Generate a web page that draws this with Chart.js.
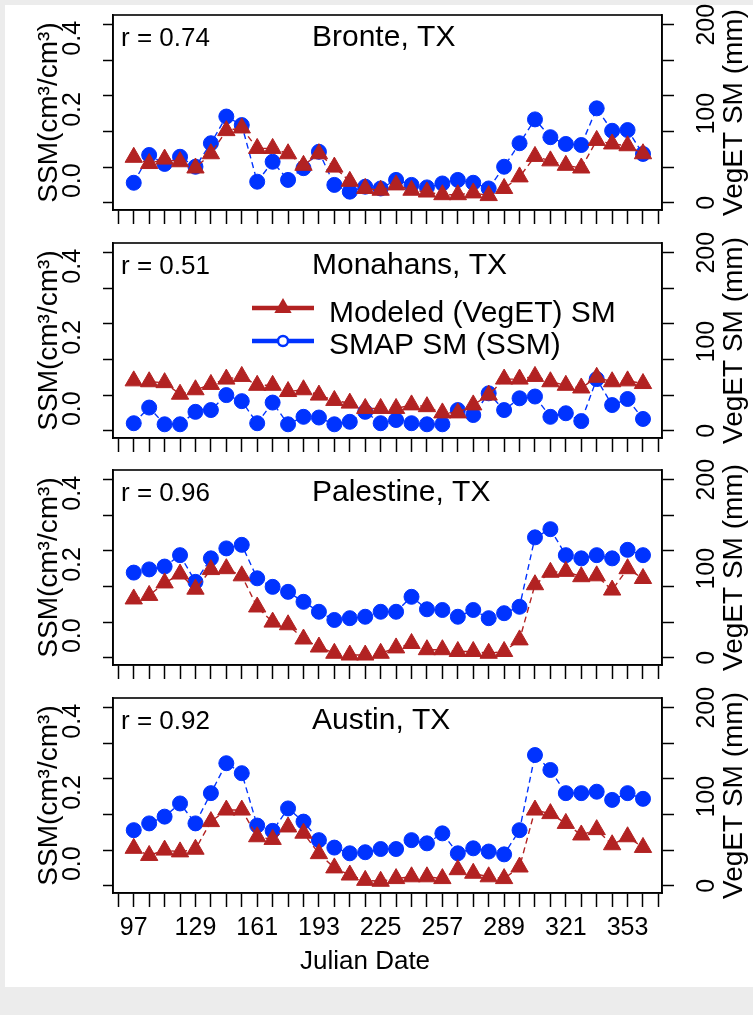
<!DOCTYPE html>
<html><head><meta charset="utf-8">
<script src="https://cdn.jsdelivr.net/npm/chart.js@4.4.1/dist/chart.umd.min.js"></script>
<style>
html,body{margin:0;padding:0;background:#ececec;width:753px;height:1015px;overflow:hidden;}
#fig{position:absolute;left:5px;top:5px;width:748px;height:982px;background:#fff;}
canvas{position:absolute;left:0;}
</style></head><body>
<div id="fig"></div>
<script>
// ---------------- data ----------------
const DAYS = [97,105,113,121,129,137,145,153,161,169,177,185,193,201,209,217,225,233,241,249,257,265,273,281,289,297,305,313,321,329,337,345,353,361];
const X_TICKS = [89,97,105,113,121,129,137,145,153,161,169,177,185,193,201,209,217,225,233,241,249,257,265,273,281,289,297,305,313,321,329,337,345,353,361,369];
const X_TICK_LABELS = ['97','129','161','193','225','257','289','321','353'];
const SSM_MARKS = [0,0.1,0.2,0.3,0.4,0.5];
const SSM_LABELS = ['0.0','0.2','0.4'];
const VEG_MARKS = [0,40,80,120,160,200];
const VEG_LABELS = ['0','100','200'];

const SITES = ['Bronte, TX','Monahans, TX','Palestine, TX','Austin, TX'];
const R_VALUES = ['0.74','0.51','0.96','0.92'];

const SSM_BRONTE = [0.056,0.134,0.109,0.129,0.101,0.167,0.242,0.218,0.059,0.115,0.064,0.097,0.143,0.050,0.031,0.045,0.040,0.064,0.050,0.043,0.054,0.064,0.056,0.040,0.101,0.167,0.234,0.184,0.165,0.162,0.265,0.202,0.204,0.137];
const VEG_BRONTE = [51,44,49,46,39,55,81,84,61,61,55,42,55,40,24,16,14,20,14,12,9,9,11,8,16,29,52,47,42,39,70,66,64,55];

const SSM_MONAHANS = [0.021,0.065,0.018,0.018,0.053,0.058,0.100,0.083,0.021,0.079,0.018,0.039,0.037,0.018,0.025,0.053,0.021,0.030,0.021,0.018,0.018,0.058,0.044,0.105,0.058,0.091,0.096,0.039,0.049,0.027,0.145,0.072,0.089,0.033];
const VEG_MONAHANS = [56,55,54,41,46,52,58,61,51,51,44,46,40,34,31,25,25,25,29,27,20,20,29,40,58,58,61,55,51,48,60,55,56,53];

const SSM_PALESTINE = [0.239,0.248,0.256,0.288,0.213,0.279,0.307,0.317,0.223,0.199,0.185,0.157,0.129,0.106,0.111,0.115,0.129,0.129,0.171,0.136,0.134,0.115,0.134,0.111,0.125,0.143,0.338,0.361,0.288,0.279,0.288,0.279,0.303,0.288];
const VEG_PALESTINE = [66,70,84,94,77,99,100,92,57,40,37,21,12,5,3,3,5,11,16,9,9,7,7,5,7,20,82,96,97,91,92,76,100,89];

const SSM_AUSTIN = [0.156,0.175,0.194,0.231,0.175,0.260,0.344,0.316,0.169,0.154,0.217,0.180,0.128,0.107,0.091,0.094,0.103,0.103,0.128,0.119,0.147,0.091,0.105,0.096,0.088,0.156,0.367,0.325,0.260,0.260,0.264,0.241,0.260,0.244];
const VEG_AUSTIN = [42,34,40,38,41,72,85,85,55,52,66,59,36,20,12,6,5,8,10,10,8,18,14,10,8,21,85,81,70,57,63,46,55,43];

const SSM_SERIES = [SSM_BRONTE, SSM_MONAHANS, SSM_PALESTINE, SSM_AUSTIN];
const VEG_SERIES = [VEG_BRONTE, VEG_MONAHANS, VEG_PALESTINE, VEG_AUSTIN];

// ---------------- layout / style ----------------
const RED = '#b22222', BLUE = '#0033ff';
const FONT = "'Liberation Sans', Arial, sans-serif";
const NARROW = "'Liberation Sans Narrow', 'Liberation Sans', Arial, sans-serif";
const PANEL_TOP = [15, 243, 470, 698];
const PANEL_H = 195, PAD_TOP = 15;
const LEFT_W = 113, RIGHT_W = 91;
const X_RANGE = [86.25, 370.85];
const SSM_RANGE = [-0.0205, 0.5272];
const VEG_RANGE = [-8.2, 210.9];

Chart.defaults.font.family = FONT;
Chart.defaults.color = '#000';

const near = (a, b) => Math.abs(a - b) < 1e-6;
const noPad = s => { s.paddingTop = 0; s.paddingBottom = 0; s.paddingLeft = 0; s.paddingRight = 0; };

const decor = {
  id: 'decor',
  afterDraw(chart, args, o) {
    const ctx = chart.ctx, a = chart.chartArea;
    ctx.save();
    ctx.strokeStyle = '#000'; ctx.lineWidth = 1.6;
    ctx.strokeRect(a.left, a.top, a.right - a.left, a.bottom - a.top);
    ctx.fillStyle = '#000';
    ctx.textBaseline = 'alphabetic'; ctx.textAlign = 'left';
    ctx.font = '26px ' + FONT;
    ctx.fillText('r = ' + o.r, 121, a.top + 31);
    ctx.font = '30px ' + FONT;
    ctx.fillText(o.site, 312, a.top + 31);
    // right axis title
    ctx.save();
    ctx.translate(734, (a.top + a.bottom) / 2);
    ctx.rotate(-Math.PI / 2);
    ctx.textAlign = 'center'; ctx.textBaseline = 'middle';
    ctx.font = '28px ' + FONT;
    ctx.fillText('VegET SM (mm)', 0, 0);
    ctx.restore();
    if (o.legend) {
      const y1 = a.top + 65, y2 = a.top + 98;
      ctx.lineWidth = 4.5;
      ctx.strokeStyle = RED;
      ctx.beginPath(); ctx.moveTo(252, y1); ctx.lineTo(314, y1); ctx.stroke();
      const r = 10;
      ctx.fillStyle = RED;
      ctx.beginPath();
      ctx.moveTo(283, y1 - r);
      ctx.lineTo(283 + 0.866 * r, y1 + 0.5 * r);
      ctx.lineTo(283 - 0.866 * r, y1 + 0.5 * r);
      ctx.closePath(); ctx.fill();
      ctx.strokeStyle = BLUE;
      ctx.beginPath(); ctx.moveTo(252, y2); ctx.lineTo(314, y2); ctx.stroke();
      ctx.fillStyle = '#fff'; ctx.lineWidth = 2.5;
      ctx.beginPath(); ctx.arc(283, y2, 5, 0, Math.PI * 2); ctx.fill(); ctx.stroke();
      ctx.fillStyle = '#000';
      ctx.font = '30px ' + FONT;
      ctx.fillText('Modeled (VegET) SM', 329, a.top + 79);
      ctx.fillText('SMAP SM (SSM)', 329, a.top + 111);
    }
    if (o.xTitle) {
      ctx.font = '26px ' + FONT;
      ctx.fillStyle = '#000';
      ctx.fillText('Julian Date', 300, a.bottom + 76);
    }
    ctx.restore();
  }
};

function makePanel(k) {
  const last = k === 3;
  const H = last ? 300 : 232;
  const canvas = document.createElement('canvas');
  canvas.width = 753; canvas.height = H;
  canvas.style.width = '753px'; canvas.style.height = H + 'px';
  canvas.style.top = (PANEL_TOP[k] - PAD_TOP) + 'px';
  document.body.appendChild(canvas);

  const ssm = SSM_SERIES[k], veg = VEG_SERIES[k];
  new Chart(canvas, {
    type: 'line',
    data: {
      datasets: [
        {
          label: 'Modeled (VegET) SM', yAxisID: 'veg',
          data: DAYS.map((d, i) => ({x: d, y: veg[i]})),
          borderColor: RED, backgroundColor: RED, borderWidth: 1.4, borderDash: [6, 4],
          pointStyle: 'triangle', pointRadius: 10, pointBorderWidth: 1,
          pointBackgroundColor: RED, pointBorderColor: RED, tension: 0, clip: false
        },
        {
          label: 'SMAP SM (SSM)', yAxisID: 'ssm',
          data: DAYS.map((d, i) => ({x: d, y: ssm[i]})),
          borderColor: BLUE, backgroundColor: BLUE, borderWidth: 1.4, borderDash: [6, 4],
          pointStyle: 'circle', pointRadius: 7.5, pointBorderWidth: 1,
          pointBackgroundColor: BLUE, pointBorderColor: BLUE, tension: 0, clip: false
        }
      ]
    },
    options: {
      responsive: false, animation: false, devicePixelRatio: 1,
      events: [],
      layout: {padding: {top: PAD_TOP, left: 0, right: 0, bottom: 0}},
      plugins: {
        legend: {display: false}, tooltip: {enabled: false},
        decor: {r: R_VALUES[k], site: SITES[k], legend: k === 1, xTitle: last}
      },
      scales: {
        x: {
          type: 'linear', position: 'bottom', min: X_RANGE[0], max: X_RANGE[1],
          afterBuildTicks: s => { s.ticks = X_TICKS.map(v => ({value: v})); },
          afterFit: s => { s.height = H - PAD_TOP - PANEL_H; noPad(s); },
          ticks: {
            autoSkip: false, maxRotation: 0, minRotation: 0, padding: 6,
            font: {size: 25, family: NARROW}, color: '#000',
            callback: v => (last && X_TICK_LABELS.includes(String(v))) ? String(v) : ''
          },
          grid: {drawOnChartArea: false, drawTicks: true, tickLength: 14, tickWidth: 1.5, tickColor: '#000'},
          border: {display: true, color: '#000', width: 1.6}
        },
        ssm: {
          type: 'linear', position: 'left', min: SSM_RANGE[0], max: SSM_RANGE[1],
          afterBuildTicks: s => { s.ticks = SSM_MARKS.map(v => ({value: v})); },
          afterFit: s => { s.width = LEFT_W; noPad(s); },
          ticks: {
            autoSkip: false, minRotation: 90, maxRotation: 90, crossAlign: 'center', labelOffset: -22, padding: 13,
            font: {size: 25, family: NARROW}, color: '#000',
            callback: v => { const i = SSM_LABELS.findIndex(t => near(parseFloat(t), v)); return i >= 0 ? SSM_LABELS[i] : ''; }
          },
          grid: {drawOnChartArea: false, drawTicks: true, tickLength: 10, tickWidth: 1.5, tickColor: '#000'},
          border: {display: true, color: '#000', width: 1.6},
          title: {display: true, text: 'SSM(cm³/cm³)', font: {size: 28, family: FONT}, color: '#000', padding: {top: 32, bottom: 0}}
        },
        veg: {
          type: 'linear', position: 'right', min: VEG_RANGE[0], max: VEG_RANGE[1],
          afterBuildTicks: s => {
            const vals = Array.from(new Set(VEG_MARKS.concat(VEG_LABELS.map(Number)))).sort((a, b) => a - b);
            s.ticks = vals.map(v => ({value: v}));
          },
          afterFit: s => { s.width = RIGHT_W; noPad(s); },
          ticks: {
            autoSkip: false, minRotation: 90, maxRotation: 90, crossAlign: 'center', padding: 12,
            font: {size: 25, family: NARROW}, color: '#000',
            callback: v => VEG_LABELS.includes(String(v)) ? String(v) : ''
          },
          grid: {
            drawOnChartArea: false, drawTicks: true, tickLength: 12, tickWidth: 1.5,
            tickColor: c => (c.tick && VEG_MARKS.includes(c.tick.value)) ? '#000' : 'rgba(0,0,0,0)'
          },
          border: {display: true, color: '#000', width: 1.6}
        }
      }
    },
    plugins: [decor]
  });
}

for (let k = 0; k < 4; k++) makePanel(k);
</script>
</body></html>
